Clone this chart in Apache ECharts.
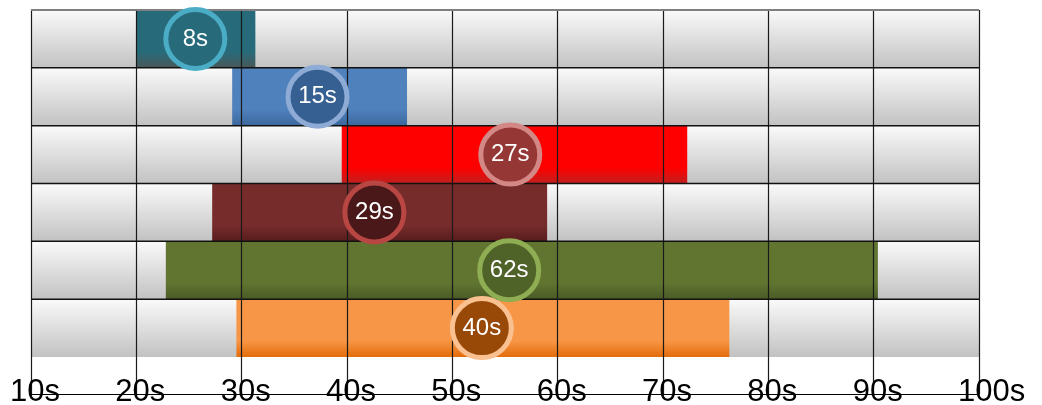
<!DOCTYPE html>
<html>
<head>
<meta charset="utf-8">
<script src="https://cdn.jsdelivr.net/npm/echarts@6/dist/echarts.min.js"></script>
<style>
html,body{margin:0;padding:0;background:#fff;}
#chart{width:1042px;height:405px;}
</style>
</head>
<body>
<div id="chart"></div>
<script>
// ---- data ----
const tickLabels = ['10s','20s','30s','40s','50s','60s','70s','80s','90s','100s'];
const barStart = [20.0, 29.1, 39.5, 27.2, 22.8, 29.5];
const barEnd   = [31.3, 45.7, 72.3, 59.0, 90.4, 76.3];
const markerPos = [25.6, 37.2, 55.5, 42.6, 55.4, 52.8];
const markerLabels = ['8s','15s','27s','29s','62s','40s'];

// ---- styles ----
const barColors   = ['#276b7b','#4f81bd','#ff0000','#772c2c','#617531','#f79646'];
const barBottoms  = ['#4a5858','#3c679c','#c0201e','#581c1c','#4a5b26','#e36c0a'];
const dotFill     = ['#276b7b','#376092','#953735','#4a1818','#4f6228','#984807'];
const dotRing     = ['#4bacc6','#8eabd6','#d48886','#b84744','#8fad52','#fac090'];

const X_MIN = 10, X_MAX = 100;
const font = "'Liberation Sans', Arial, sans-serif";

const chart = echarts.init(document.getElementById('chart'), null, {renderer:'canvas'});

const rowIdx = barStart.map((_, i) => i);

function rectFor(api, x0, x1, r){
  const p0 = api.coord([x0, r]);
  const p1 = api.coord([x1, r + 1]);
  return {x: p0[0], y: p0[1], width: p1[0] - p0[0], height: p1[1] - p0[1]};
}

const option = {
  animation: false,
  backgroundColor: '#fff',
  grid: {left: 31, right: 63, top: 10, bottom: 11, containLabel: false, outerBoundsMode: 'none'},
  xAxis: {
    type: 'value', min: X_MIN, max: X_MAX, interval: 10, z: 3,
    axisLine: {show: true, onZero: false, lineStyle: {color: '#000', width: 1.2}},
    axisTick: {show: false},
    splitLine: {show: true, showMinLine: true, showMaxLine: true, lineStyle: {color: '#1a1a1a', width: 1.2}},
    axisLabel: {
      show: true, color: '#000', fontSize: 31, fontFamily: font,
      margin: -17, align: 'left', padding: [0, 0, 0, -21], hideOverlap: false,
      formatter: v => tickLabels[Math.round((v - X_MIN) / 10)]
    }
  },
  yAxis: {
    type: 'value', inverse: true, min: 0, max: 384 / 57.83,
    show: false, splitLine: {show: false}
  },
  series: [
    {
      type: 'custom', z: 1, silent: true,
      data: rowIdx.map(i => [i]),
      encode: {y: 0},
      renderItem: (params, api) => {
        const r = api.value(0);
        return {
          type: 'rect', shape: rectFor(api, X_MIN, X_MAX, r),
          style: {fill: new echarts.graphic.LinearGradient(0, 0, 0, 1, [
            {offset: 0, color: '#fafafa'}, {offset: 1, color: '#c2c2c2'}])}
        };
      }
    },
    {
      type: 'custom', z: 2, silent: true,
      data: rowIdx.map(i => [i, barStart[i], barEnd[i]]),
      encode: {y: 0, x: [1, 2]},
      renderItem: (params, api) => {
        const i = params.dataIndex;
        return {
          type: 'rect', shape: rectFor(api, api.value(1), api.value(2), api.value(0)),
          style: {fill: new echarts.graphic.LinearGradient(0, 0, 0, 1, [
            {offset: 0, color: barColors[i]},
            {offset: 0.72, color: barColors[i]},
            {offset: 1, color: barBottoms[i]}])}
        };
      }
    },
    {
      type: 'custom', z: 4, silent: true,
      data: [0, 1, 2, 3, 4, 5].map(b => [b]),
      encode: {y: 0},
      renderItem: (params, api) => {
        const b = api.value(0);
        const p0 = api.coord([X_MIN, b]);
        const p1 = api.coord([X_MAX, b]);
        return {
          type: 'line', shape: {x1: p0[0], y1: p0[1], x2: p1[0], y2: p1[1]},
          style: {stroke: b === 0 ? '#808080' : '#111', lineWidth: b === 0 ? 2 : 1.5}
        };
      }
    },
    {
      type: 'scatter', z: 6, silent: true,
      symbol: 'circle', symbolSize: 59,
      data: rowIdx.map(i => ({
        value: [markerPos[i], i + 0.5],
        itemStyle: {color: dotFill[i], borderColor: dotRing[i], borderWidth: 5, opacity: 1}
      })),
      label: {
        show: true, position: 'inside', color: '#fff', fontSize: 24, fontFamily: font,
        formatter: p => markerLabels[p.dataIndex]
      }
    }
  ]
};
chart.setOption(option);
</script>
</body>
</html>
